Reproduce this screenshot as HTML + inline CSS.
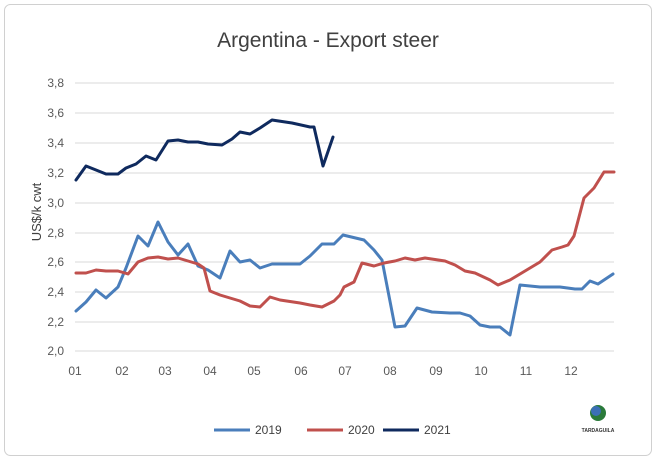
<!DOCTYPE html>
<html><head><style>body{margin:0;background:#fff}</style></head><body>
<svg width="656" height="460" xmlns="http://www.w3.org/2000/svg" font-family="Liberation Sans, sans-serif">
<rect x="0" y="0" width="656" height="460" fill="#fff"/>
<rect x="4.5" y="4.5" width="647" height="451" rx="6" fill="#fff" stroke="#d0d0d0"/>
<text x="328" y="47" text-anchor="middle" font-size="21" fill="#404040">Argentina - Export steer</text>
<g stroke="#d9d9d9" stroke-width="1">
<line x1="75" x2="614" y1="83" y2="83"/><line x1="75" x2="614" y1="113" y2="113"/><line x1="75" x2="614" y1="143" y2="143"/><line x1="75" x2="614" y1="173" y2="173"/><line x1="75" x2="614" y1="203" y2="203"/><line x1="75" x2="614" y1="233" y2="233"/><line x1="75" x2="614" y1="262" y2="262"/><line x1="75" x2="614" y1="292" y2="292"/><line x1="75" x2="614" y1="322" y2="322"/><line x1="75" x2="614" y1="351" y2="351"/>
</g>
<g font-size="12" fill="#595959" text-anchor="end">
<text x="64" y="87">3,8</text><text x="64" y="117">3,6</text><text x="64" y="147">3,4</text><text x="64" y="177">3,2</text><text x="64" y="207">3,0</text><text x="64" y="237">2,8</text><text x="64" y="266">2,6</text><text x="64" y="296">2,4</text><text x="64" y="326">2,2</text><text x="64" y="355">2,0</text>
</g>
<g font-size="12" fill="#595959" text-anchor="middle">
<text x="75" y="375">01</text><text x="122" y="375">02</text><text x="165" y="375">03</text><text x="210" y="375">04</text><text x="254" y="375">05</text><text x="301" y="375">06</text><text x="345" y="375">07</text><text x="390" y="375">08</text><text x="436" y="375">09</text><text x="481" y="375">10</text><text x="526" y="375">11</text><text x="571" y="375">12</text>
</g>
<text transform="translate(41,212) rotate(-90)" text-anchor="middle" font-size="13" fill="#404040">US$/k cwt</text>
<g fill="none" stroke-width="3" stroke-linejoin="round" stroke-linecap="round">
<polyline stroke="#4a7ebb" points="76,311 86,302 96,290 106,298 118,287 126,268 138,236 148,246 158,222 168,242 178,255 188,244 198,266 208,270 220,278 230,251 240,262 250,260 260,268 272,264 300,264 310,256 322,244 334,244 343,235 364,240 374,250 382,260 395,327 405,326 417,308 432,312 450,313 460,313 470,316 480,325 490,327 500,327 510,335 520,285 540,287 560,287 575,289 582,289 590,281 598,284 613,274"/>
<polyline stroke="#c0504d" points="76,273 86,273 96,270 106,271 118,271 128,274 138,262 148,258 158,257 168,259 178,258 188,261 198,264 204,268 210,291 220,295 240,301 250,306 260,307 270,297 280,300 300,303 310,305 322,307 334,301 340,295 344,287 354,282 362,263 374,266 384,263 395,261 405,258 415,260 425,258 445,261 455,265 465,271 475,273 490,280 498,285 510,280 530,268 540,262 552,250 562,247 568,245 574,236 584,198 594,188 604,172 614,172"/>
<polyline stroke="#0f2a5e" points="76,180 86,166 96,170 106,174 118,174 126,168 136,164 146,156 156,160 168,141 178,140 188,142 198,142 208,144 222,145 232,139 240,132 250,134 260,128 272,120 292,123 310,127 314,127 323,166 333,137"/>
</g>
<g font-size="12" fill="#404040">
<line x1="214" x2="250" y1="430" y2="430" stroke="#4a7ebb" stroke-width="3"/><text x="255" y="434">2019</text>
<line x1="307" x2="343" y1="430" y2="430" stroke="#c0504d" stroke-width="3"/><text x="348" y="434">2020</text>
<line x1="383" x2="419" y1="430" y2="430" stroke="#0f2a5e" stroke-width="3"/><text x="424" y="434">2021</text>
</g>
<circle cx="598" cy="413" r="8" fill="#2a7a3a"/>
<circle cx="596" cy="411" r="5" fill="#3b6fb6"/>
<text x="598" y="432" text-anchor="middle" font-size="5" font-weight="bold" fill="#333">TARDAGUILA</text>
</svg>
</body></html>
